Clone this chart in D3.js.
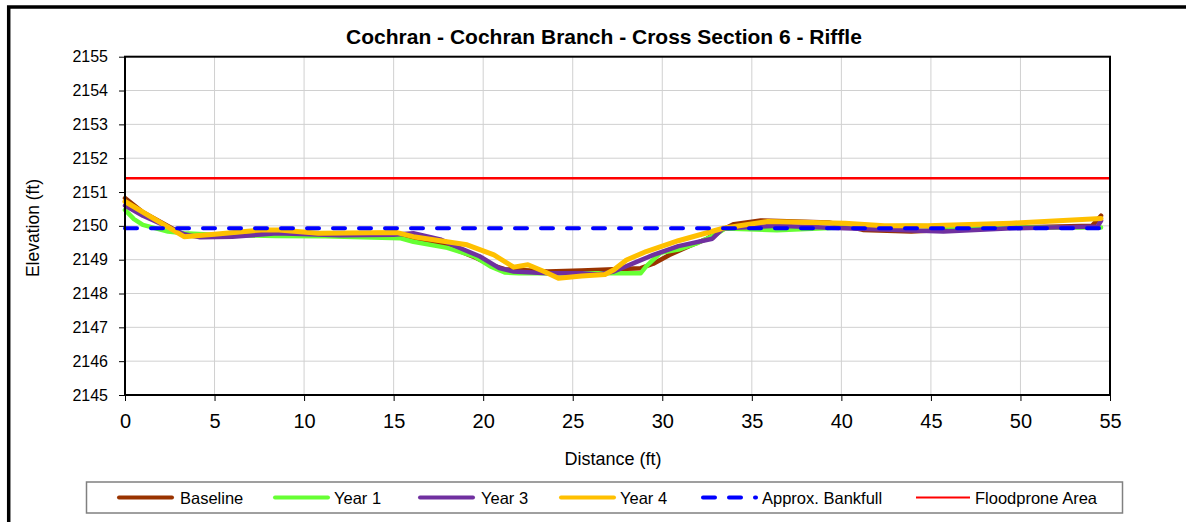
<!DOCTYPE html>
<html>
<head>
<meta charset="utf-8">
<script src="https://cdn.jsdelivr.net/npm/d3@7"></script>
<style>
  html, body { margin: 0; padding: 0; background: #fff; }
  svg { display: block; font-family: Arial, "Liberation Sans", sans-serif; }
</style>
</head>
<body>
<svg id="chart" width="1186" height="522"></svg>
<script>
// ---------- DATA ----------
const chartTitle = "Cochran - Cochran Branch - Cross Section 6 - Riffle";
const xTicks = [0, 5, 10, 15, 20, 25, 30, 35, 40, 45, 50, 55];
const yTicks = [2145, 2146, 2147, 2148, 2149, 2150, 2151, 2152, 2153, 2154, 2155];

const baselineX = [0, 1, 3.3, 5, 8, 12, 15, 16.1, 18, 19.4, 20.4, 21.2, 23.6, 25.5, 27.3, 28.8, 29.5, 30.4, 31.5, 32.5, 33.2, 34, 35.5, 39.3, 41.2, 43.9, 47.6, 54, 54.5];
const baselineY = [2150.82, 2150.4, 2149.73, 2149.72, 2149.82, 2149.75, 2149.78, 2149.63, 2149.4, 2149.1, 2148.85, 2148.72, 2148.65, 2148.68, 2148.72, 2148.75, 2148.88, 2149.14, 2149.4, 2149.62, 2149.85, 2150.05, 2150.16, 2150.1, 2149.88, 2149.83, 2149.93, 2150.0, 2150.3];

const year1X = [0, 0.5, 1, 2.4, 3.3, 5.2, 8.4, 11.2, 15.4, 16.1, 18, 19.5, 20.4, 21.2, 22, 28.8, 29.1, 29.9, 30.9, 32, 33, 33.5, 36.4, 40, 44, 48, 54.5];
const year1Y = [2150.47, 2150.2, 2150.03, 2149.83, 2149.78, 2149.73, 2149.7, 2149.69, 2149.63, 2149.53, 2149.35, 2149.1, 2148.8, 2148.62, 2148.6, 2148.6, 2148.8, 2149.2, 2149.3, 2149.5, 2149.75, 2149.92, 2149.87, 2149.95, 2150.0, 2149.95, 2149.95];

const year3X = [0, 1, 3.3, 4.2, 6, 8.5, 12, 15, 16.1, 17.6, 18.5, 19.8, 20.9, 21.7, 23.6, 25.5, 26.4, 27.3, 28.4, 29.5, 30.9, 32.8, 33.4, 36.4, 40.2, 45.7, 49.5, 54.3, 54.5];
const year3Y = [2150.6, 2150.3, 2149.75, 2149.66, 2149.68, 2149.78, 2149.72, 2149.74, 2149.78, 2149.6, 2149.39, 2149.1, 2148.75, 2148.65, 2148.6, 2148.6, 2148.56, 2148.65, 2148.9, 2149.14, 2149.4, 2149.62, 2149.93, 2150.0, 2149.93, 2149.83, 2149.93, 2149.98, 2150.15];

const year4X = [0, 3.3, 5, 7.6, 8.6, 10.8, 15.2, 16.1, 19.1, 20.6, 21.7, 22.5, 23.4, 24.2, 25.5, 26.8, 27.3, 28, 29.1, 30.9, 33.4, 35.9, 40.2, 42.4, 44.8, 49.5, 54.5];
const year4Y = [2150.72, 2149.68, 2149.75, 2149.88, 2149.88, 2149.78, 2149.8, 2149.68, 2149.44, 2149.14, 2148.78, 2148.85, 2148.65, 2148.45, 2148.52, 2148.56, 2148.7, 2148.99, 2149.24, 2149.56, 2149.93, 2150.13, 2150.08, 2150.0, 2150.0, 2150.08, 2150.22];

const bankfullX = [0, 54.6];
const bankfullY = [2149.93, 2149.93];
const floodproneX = [0, 55];
const floodproneY = [2151.41, 2151.41];

const seriesNames = ["Baseline", "Year 1", "Year 3", "Year 4", "Approx. Bankfull", "Floodprone Area"];
const seriesColors = ["#993300", "#66ff33", "#7030a0", "#ffc000", "#0000ff", "#ff0000"];

// ---------- LAYOUT ----------
const svg = d3.select("#chart");
const W = 1186, H = 522;
const plot = { left: 125, top: 56.7, right: 1110, bottom: 395 };

svg.append("rect").attr("width", W).attr("height", H).attr("fill", "#fff");
// outer chart border
svg.append("rect").attr("x", 8.7).attr("y", 7).attr("width", 1250).attr("height", 700)
  .attr("fill", "none").attr("stroke", "#000").attr("stroke-width", 3.5);

const x = d3.scaleLinear().domain([0, 55]).range([plot.left, plot.right]);
const y = d3.scaleLinear().domain([2145, 2155]).range([plot.bottom, plot.top]);

// gridlines
const grid = svg.append("g");
grid.selectAll("line.v").data(xTicks.slice(1, -1)).join("line")
  .attr("x1", d => x(d)).attr("x2", d => x(d)).attr("y1", plot.top).attr("y2", plot.bottom)
  .attr("stroke", "#d0d0d0").attr("stroke-width", 1);
grid.selectAll("line.h").data(yTicks.slice(1, -1)).join("line")
  .attr("x1", plot.left).attr("x2", plot.right).attr("y1", d => y(d)).attr("y2", d => y(d))
  .attr("stroke", "#d0d0d0").attr("stroke-width", 1);

// axes
const yAxis = svg.append("g").attr("transform", `translate(${plot.left},0)`)
  .call(d3.axisLeft(y).tickValues(yTicks).tickFormat(d3.format("d")).tickSize(6).tickPadding(11));
yAxis.select(".domain").remove();
yAxis.selectAll("text").attr("font-size", 16).attr("fill", "#000")
  .attr("font-family", "Arial, 'Liberation Sans', sans-serif");
yAxis.selectAll("line").attr("stroke", "#000");

const xAxis = svg.append("g").attr("transform", `translate(0,${plot.bottom})`)
  .call(d3.axisBottom(x).tickValues(xTicks).tickFormat(d3.format("d")).tickSize(6));
xAxis.select(".domain").remove();
xAxis.selectAll("text").attr("font-size", 20).attr("fill", "#000").attr("dy", null).attr("y", 33)
  .attr("font-family", "Arial, 'Liberation Sans', sans-serif");
xAxis.selectAll("line").attr("stroke", "#000");

// series
const series = [
  { xs: baselineX, ys: baselineY, w: 4.5 },
  { xs: year1X, ys: year1Y, w: 4.5 },
  { xs: year3X, ys: year3Y, w: 4.5 },
  { xs: year4X, ys: year4Y, w: 5 },
  { xs: bankfullX, ys: bankfullY, w: 4, dash: "12,14" },
  { xs: floodproneX, ys: floodproneY, w: 2.5 }
];
const line = d3.line().x(d => x(d[0])).y(d => y(d[1])).curve(d3.curveLinear);
const lines = svg.append("g");
series.forEach((s, i) => {
  const pts = s.xs.map((v, j) => [v, s.ys[j]]);
  const p = lines.append("path").datum(pts).attr("d", line)
    .attr("fill", "none").attr("stroke", seriesColors[i]).attr("stroke-width", s.w)
    .attr("stroke-linejoin", "round").attr("stroke-linecap", "round");
  if (s.dash) p.attr("stroke-dasharray", s.dash);
  if (i === 5) p.attr("stroke-linecap", "butt");
});

// plot border
svg.append("rect").attr("x", plot.left).attr("y", plot.top)
  .attr("width", plot.right - plot.left).attr("height", plot.bottom - plot.top)
  .attr("fill", "none").attr("stroke", "#000").attr("stroke-width", 2);

// title
svg.append("text").attr("x", 604).attr("y", 43.5).attr("text-anchor", "middle")
  .attr("font-size", 21).attr("font-weight", "bold").attr("fill", "#000").text(chartTitle);

// axis titles
svg.append("text").attr("x", 613).attr("y", 465).attr("text-anchor", "middle")
  .attr("font-size", 18).attr("fill", "#000").text("Distance (ft)");
svg.append("text").attr("transform", "translate(39,228) rotate(-90)").attr("text-anchor", "middle")
  .attr("font-size", 17.5).attr("fill", "#000").text("Elevation (ft)");

// legend
svg.append("rect").attr("x", 86.5).attr("y", 482).attr("width", 1036).attr("height", 31)
  .attr("fill", "#fff").attr("stroke", "#808080").attr("stroke-width", 1.5);
const legendX = [117, 273, 418, 559, 701, 916];
const legendTextX = [180, 334, 481, 620, 762, 975];
const legendY = 497.5;
const lg = svg.append("g");
seriesNames.forEach((name, i) => {
  const lineLen = i === 5 ? 54 : 57;
  const l = lg.append("line").attr("x1", legendX[i] + 2).attr("x2", legendX[i] + lineLen - 2)
    .attr("y1", legendY).attr("y2", legendY)
    .attr("stroke", seriesColors[i]).attr("stroke-width", i === 5 ? 2 : 4)
    .attr("stroke-linecap", i === 5 ? "butt" : "round");
  if (i === 4) l.attr("stroke-dasharray", "12,14");
  if (i === 5) l.attr("x1", legendX[i]).attr("x2", legendX[i] + lineLen);
  lg.append("text").attr("x", legendTextX[i]).attr("y", legendY + 6)
    .attr("font-size", 16.5).attr("fill", "#000").text(name);
});
</script>
</body>
</html>
